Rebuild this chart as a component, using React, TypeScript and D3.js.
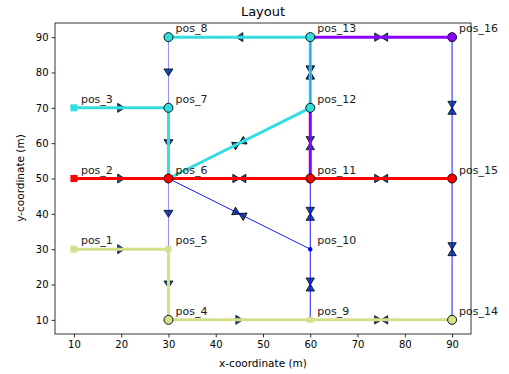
import React, { useEffect, useRef } from 'react';
import * as d3 from "d3";

const CYAN = "#33dede";
const RED = "#ff0000";
const PURPLE = "#8a00ff";
const OLIVE = "#d4e08a";
const BLUE = "#0000ff";

// nodes: name, x, y, shape
const nodeNames = ["pos_1", "pos_2", "pos_3", "pos_4", "pos_5", "pos_6", "pos_7", "pos_8",
    "pos_9", "pos_10", "pos_11", "pos_12", "pos_13", "pos_14", "pos_15", "pos_16"];
const nodeX = [10, 10, 10, 30, 30, 30, 30, 30, 60, 60, 60, 60, 60, 90, 90, 90];
const nodeY = [30, 50, 70, 10, 30, 50, 70, 90, 10, 30, 50, 70, 90, 10, 50, 90];
const nodeShape = ["square", "square", "square", "circle", "smallsquare", "circle", "circle", "circle",
    "smallsquare", "dot", "circle", "circle", "circle", "circle", "circle", "circle"];
const nodeColor = [OLIVE, RED, CYAN, OLIVE, OLIVE, RED, CYAN, CYAN,
    OLIVE, BLUE, RED, CYAN, CYAN, OLIVE, RED, PURPLE];

// thin blue pipes: [from, to, marker]
const pipes: [string, string, string][] = [
    ["pos_8", "pos_7", "arrow"],
    ["pos_6", "pos_5", "arrow"],
    ["pos_6", "pos_10", "bowtie"],
    ["pos_11", "pos_10", "bowtie"],
    ["pos_10", "pos_9", "bowtie"],
    ["pos_16", "pos_15", "bowtie"],
    ["pos_15", "pos_14", "bowtie"],
    ["pos_13", "pos_12", "bowtie"],
];
const pipeOpacity = [0.5, 0.5, 1, 1, 1, 1, 1, 0.4];

// coloured paths: [from, to, marker, colour]
const paths: [string, string, string, string][] = [
    ["pos_1", "pos_5", "arrow", OLIVE],
    ["pos_5", "pos_4", "arrow", OLIVE],
    ["pos_4", "pos_9", "arrow", OLIVE],
    ["pos_9", "pos_14", "bowtie", OLIVE],
    ["pos_2", "pos_6", "arrow", RED],
    ["pos_6", "pos_11", "bowtie", RED],
    ["pos_11", "pos_15", "bowtie", RED],
    ["pos_3", "pos_7", "arrow", CYAN],
    ["pos_7", "pos_6", "arrow", CYAN],
    ["pos_6", "pos_12", "bowtie", CYAN],
    ["pos_12", "pos_13", "bowtie", CYAN],
    ["pos_13", "pos_8", "arrow", CYAN],
    ["pos_13", "pos_16", "bowtie", PURPLE],
    ["pos_11", "pos_12", "bowtie", PURPLE],
];

const xTicks = [10, 20, 30, 40, 50, 60, 70, 80, 90];
const yTicks = [10, 20, 30, 40, 50, 60, 70, 80, 90];

export default function App() {
    const svgRef = useRef(null);

    useEffect(() => {
        const svg = d3.select(svgRef.current);
        svg.selectAll("*").remove();

        const x = d3.scaleLinear().domain([6, 94]).range([55, 471]);
        const y = d3.scaleLinear().domain([6, 94]).range([334, 23]);
        const pos = (n: string) => {
            const i = nodeNames.indexOf(n);
            return [x(nodeX[i]), y(nodeY[i])];
        };

        svg.append("text").attr("x", 263).attr("y", 16).attr("text-anchor", "middle")
            .style("font-size", "13px").text("Layout");

        const gx = svg.append("g").attr("transform", "translate(0,334)")
            .call(d3.axisBottom(x).tickValues(xTicks).tickSize(3.5).tickPadding(3));
        gx.select("path").remove();
        const gy = svg.append("g").attr("transform", "translate(55,0)")
            .call(d3.axisLeft(y).tickValues(yTicks).tickSize(3.5).tickPadding(3));
        gy.select("path").remove();
        svg.selectAll(".tick text").style("font-size", "10px").style("font-family", "DejaVu Sans").attr("fill", "#000");
        svg.selectAll(".tick line").attr("stroke", "#000").attr("stroke-width", 0.8);

        svg.append("text").attr("x", 263).attr("y", 367).attr("text-anchor", "middle")
            .style("font-size", "10.5px").text("x-coordinate (m)");
        svg.append("text").attr("transform", "translate(24,178) rotate(-90)").attr("text-anchor", "middle")
            .style("font-size", "10.5px").text("y-coordinate (m)");

        const plot = svg.append("g");

        // flow markers under the lines
        const drawMarker = (a: string, b: string, kind: string) => {
            const [x1, y1] = pos(a);
            const [x2, y2] = pos(b);
            const ang = Math.atan2(y2 - y1, x2 - x1) * 180 / Math.PI;
            const g = plot.append("g")
                .attr("transform", `translate(${(x1 + x2) / 2},${(y1 + y2) / 2}) rotate(${ang})`);
            const tri = kind === "arrow"
                ? ["M3.5,0 L-3.5,-4.5 L-3.5,4.5 Z"]
                : ["M0.5,0 L-6.5,-4.2 L-6.5,4.2 Z", "M-0.5,0 L6.5,-4.2 L6.5,4.2 Z"];
            tri.forEach((d) => g.append("path").attr("d", d)
                .attr("fill", "#1d5499").attr("stroke", "#000").attr("stroke-width", 0.8));
        };
        pipes.forEach(([a, b, k]) => drawMarker(a, b, k));
        paths.forEach(([a, b, k]) => drawMarker(a, b, k));

        paths.forEach(([a, b, , c]) => {
            const [x1, y1] = pos(a);
            const [x2, y2] = pos(b);
            plot.append("line").attr("x1", x1).attr("y1", y1).attr("x2", x2).attr("y2", y2)
                .attr("stroke", c).attr("stroke-width", 3);
        });
        pipes.forEach(([a, b], i) => {
            const [x1, y1] = pos(a);
            const [x2, y2] = pos(b);
            plot.append("line").attr("x1", x1).attr("y1", y1).attr("x2", x2).attr("y2", y2)
                .attr("stroke", BLUE).attr("stroke-width", 0.9).attr("stroke-opacity", pipeOpacity[i]);
        });

        nodeNames.forEach((n, i) => {
            const [cx, cy] = pos(n);
            const s = nodeShape[i];
            if (s === "circle") {
                plot.append("circle").attr("cx", cx).attr("cy", cy).attr("r", 4.5)
                    .attr("fill", nodeColor[i]).attr("stroke", "#000").attr("stroke-width", 0.9);
            } else if (s === "square") {
                plot.append("rect").attr("x", cx - 3.5).attr("y", cy - 3.5).attr("width", 7).attr("height", 7)
                    .attr("fill", nodeColor[i]);
            } else if (s === "smallsquare") {
                plot.append("rect").attr("x", cx - 3).attr("y", cy - 3).attr("width", 6).attr("height", 6)
                    .attr("fill", nodeColor[i]);
            } else {
                plot.append("circle").attr("cx", cx).attr("cy", cy).attr("r", 2.2).attr("fill", nodeColor[i]);
            }
            plot.append("text").attr("x", cx + 7).attr("y", cy - 5)
                .style("font-size", "11px").attr("fill", "#222").text(n);
        });

        svg.append("rect").attr("x", 55).attr("y", 23).attr("width", 416).attr("height", 311)
            .attr("fill", "none").attr("stroke", "#000").attr("stroke-width", 0.8);
    }, []);

    return (
        <svg ref={svgRef} width={509} height={374}
            style={{ position: "absolute", left: 0, top: 0, fontFamily: "DejaVu Sans", background: "#fff" }} />
    );
}
